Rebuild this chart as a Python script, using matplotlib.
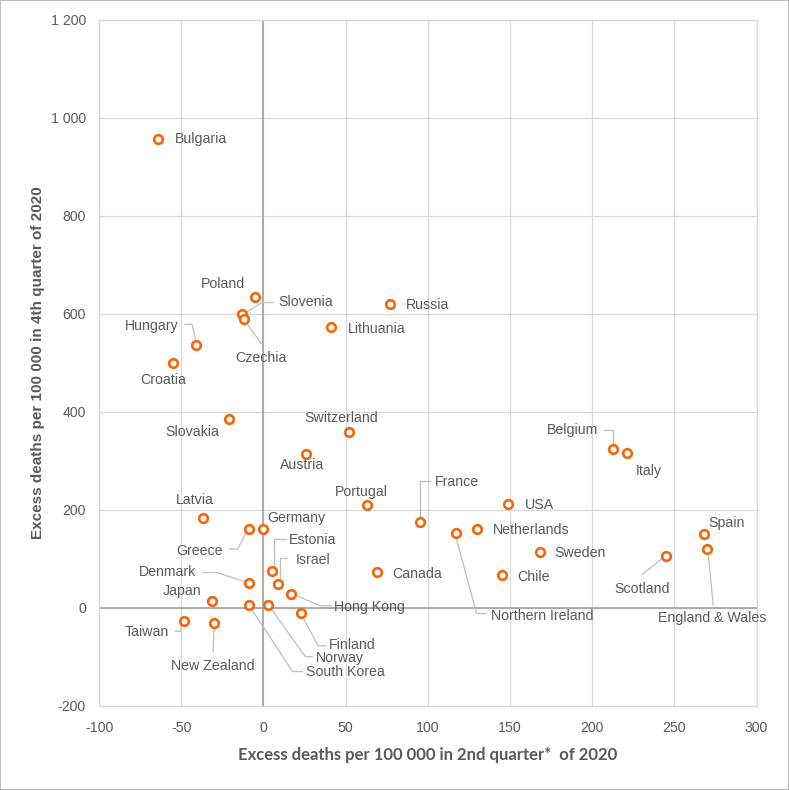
import matplotlib
matplotlib.use("Agg")
import matplotlib.pyplot as plt
from matplotlib.patches import Rectangle
from matplotlib.ticker import FuncFormatter

# ---------------- data ----------------
countries = ["Bulgaria", "Poland", "Slovenia", "Czechia", "Hungary", "Croatia",
             "Slovakia", "Russia", "Lithuania", "Switzerland", "Austria", "Portugal",
             "France", "USA", "Netherlands", "Northern Ireland", "Sweden", "Chile",
             "Canada", "Belgium", "Italy", "Scotland", "Spain", "England & Wales",
             "Latvia", "Greece", "Germany", "Estonia", "Israel", "Denmark", "Japan",
             "Taiwan", "New Zealand", "Hong Kong", "Finland", "Norway", "South Korea"]
q2_excess = [-64, -5, -13, -12, -41, -55,
             -21, 77, 41, 52, 26, 63,
             95, 149, 130, 117, 168, 145,
             69, 213, 221, 245, 268, 270,
             -37, -9, 0, 5, 9, -9, -31,
             -48, -30, 17, 23, 3, -9]
q4_excess = [956, 634, 598, 589, 535, 500,
             385, 619, 573, 358, 314, 210,
             175, 212, 161, 153, 113, 66,
             72, 324, 315, 106, 151, 119,
             183, 160, 160, 74, 47, 49, 13,
             -28, -31, 28, -11, 6, 6]

x_ticks = [-100, -50, 0, 50, 100, 150, 200, 250, 300]
y_ticks = [-200, 0, 200, 400, 600, 800, 1000, 1200]
x_label = "Excess deaths per 100 000 in 2nd quarter*  of 2020"
y_label = "Excess deaths per 100 000 in 4th quarter of 2020"

# ---------------- label layout (pixel offsets from the point, y down) ----------------
label_layout = {
    "Bulgaria": ((17, 0), "left", None),
    "Poland": ((-32, -13), "center", None),
    "Slovenia": ((36, -12), "left", [(4, -2), (20, -12), (31, -12)]),
    "Czechia": ((17, 39), "center", [(2, 3), (18, 25)]),
    "Hungary": ((-17, -19), "right", [(-11, -21), (-4, -21), (0, -4)]),
    "Croatia": ((-10, 17), "center", None),
    "Slovakia": ((-37, 13), "center", None),
    "Russia": ((16, 1), "left", None),
    "Lithuania": ((17, 2), "left", None),
    "Switzerland": ((-8, -14), "center", None),
    "Austria": ((-4, 11), "center", None),
    "Portugal": ((-6, -13), "center", None),
    "France": ((15, -40), "left", [(0, -5), (0, -41), (10, -41)]),
    "USA": ((17, 1), "left", None),
    "Netherlands": ((16, 1), "left", None),
    "Northern Ireland": ((35, 83), "left", [(0, 4), (21, 81), (30, 81)]),
    "Sweden": ((15, 1), "left", None),
    "Chile": ((16, 2), "left", None),
    "Canada": ((15, 2), "left", None),
    "Belgium": ((-15, -19), "right", [(-9, -19), (0, -19), (0, -4)]),
    "Italy": ((22, 18), "center", None),
    "Scotland": ((-24, 33), "center", [(-24, 19), (-4, 3)]),
    "Spain": ((4, -11), "left", None),
    "England & Wales": ((5, 69), "center", [(1, 4), (6, 56)]),
    "Latvia": ((-8, -18), "center", None),
    "Greece": ((-26, 22), "right", [(-19, 20), (-11, 20), (-2, 3)]),
    "Germany": ((4, -11), "left", None),
    "Estonia": ((17, -31), "left", [(14, -32), (2, -32), (2, -4)]),
    "Israel": ((18, -24), "left", [(9, -26), (2, -26), (2, -4)]),
    "Denmark": ((-52, -11), "right", [(-46, -11), (-32, -11), (-4, -2)]),
    "Japan": ((-11, -10), "right", None),
    "Taiwan": ((-16, 11), "right", [(-9, 10), (-4, 10), (-3, 4)]),
    "New Zealand": ((-1, 43), "center", [(0, 5), (-1, 29)]),
    "Hong Kong": ((43, 13), "left", [(3, 1), (29, 12), (40, 12)]),
    "Finland": ((28, 32), "left", [(1, 3), (17, 33), (25, 33)]),
    "Norway": ((48, 53), "left", [(2, 3), (37, 52), (44, 52)]),
    "South Korea": ((57, 67), "left", [(2, 3), (44, 67), (54, 67)]),
}

TEXT = "#595959"
ORANGE = "#F5660C"
GRID = "#D9D9D9"
AXLINE = "#A6A6A6"
LEADER = "#BFBFBF"
narrow = ["Liberation Sans Narrow", "Liberation Sans", "DejaVu Sans"]
LABEL_SIZE = 10.2

fig = plt.figure(figsize=(7.89, 7.90), dpi=100)
ax = fig.add_axes([99 / 789, (790 - 705.5) / 790, (756.5 - 99) / 789, (705.5 - 19.5) / 790])

ax.set_xlim(-100, 300)
ax.set_ylim(-200, 1200)
ax.set_xticks(x_ticks)
ax.set_yticks(y_ticks)
ax.yaxis.set_major_formatter(FuncFormatter(lambda v, p: f"{int(v):,}".replace(",", " ")))
ax.xaxis.set_major_formatter(FuncFormatter(lambda v, p: f"{int(v)}"))
ax.tick_params(length=0, labelcolor=TEXT, labelsize=10.2)
ax.tick_params(axis="x", pad=11)
ax.tick_params(axis="y", pad=9.5)
for lab in ax.get_xticklabels() + ax.get_yticklabels():
    lab.set_family(narrow)

ax.grid(True, color=GRID, lw=0.9, zorder=0)
ax.set_axisbelow(True)
for s in ax.spines.values():
    s.set_color(GRID)
    s.set_linewidth(0.9)
ax.axhline(0, color=AXLINE, lw=1.3, zorder=1)
ax.axvline(0, color=AXLINE, lw=1.3, zorder=1)

ax.plot(q2_excess, q4_excess, ls="none", marker="o", ms=6.2, mew=1.9,
        mec=ORANGE, mfc="white", zorder=4, clip_on=False)

ax.set_xlabel(x_label, fontsize=12, fontweight="bold", color=TEXT,
              family=["Lato", "DejaVu Sans"], labelpad=9)
ax.set_ylabel(y_label, fontsize=11, fontweight="bold", color=TEXT,
              family=narrow, labelpad=4)

# labels and leader lines
fig.canvas.draw()
inv = ax.transData.inverted()
for name, x, y in zip(countries, q2_excess, q4_excess):
    (dx, dy), ha, leader = label_layout[name]
    ax.annotate(name, xy=(x, y), xytext=(dx, -dy), textcoords="offset pixels",
                ha=ha, va="center", fontsize=LABEL_SIZE, color=TEXT, family=narrow, zorder=5)
    if leader:
        X, Y = ax.transData.transform((x, y))
        pts = inv.transform([(X + lx, Y - ly) for lx, ly in leader])
        ax.plot(pts[:, 0], pts[:, 1], color=LEADER, lw=0.9, zorder=3, clip_on=False)

fig.patches.append(Rectangle((0, 0), 1, 1, transform=fig.transFigure, fill=False,
                             edgecolor="#BFBFBF", lw=1.5))

fig.savefig("out.png", dpi=100)
